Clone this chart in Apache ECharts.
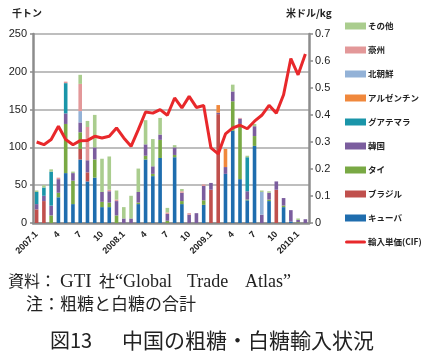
<!DOCTYPE html>
<html><head><meta charset="utf-8">
<script src="https://cdn.jsdelivr.net/npm/echarts@6/dist/echarts.min.js"></script>
<style>html,body{margin:0;padding:0;background:#fff}#c{width:427px;height:358px}</style>
</head><body><div id="c"></div>
<script>
const categories = ['2007.1','2007.2','2007.3','2007.4','2007.5','2007.6','2007.7','2007.8','2007.9','2007.10','2007.11','2007.12',
'2008.1','2008.2','2008.3','2008.4','2008.5','2008.6','2008.7','2008.8','2008.9','2008.10','2008.11','2008.12',
'2009.1','2009.2','2009.3','2009.4','2009.5','2009.6','2009.7','2009.8','2009.9','2009.10','2009.11','2009.12',
'2010.1','2010.2'];
// thousand tonnes
const cuba      = [0,0,0,34,66,25,84,55,60,21,21,0, 0,0,25,84,62,86,0,87,25,0,0,24, 0,0,65,122,58,30,102,0,29,0,21,2, 0,0];
const brazil    = [18,29,0,0,0,0,14,12,0,0,0,0, 0,0,0,0,0,0,0,0,0,0,0,0, 44,144,0,0,0,0,0,0,0,44,0,0, 0,0];
const thai      = [0,0,10,6,65,31,22,0,24,7,6,10, 0,0,2,5,3,24,3,3,4,0,0,6, 0,0,0,39,73,1,13,0,2,0,2,0, 1,0];
const korea     = [7,7,13,18,14,10,13,16,16,13,15,19, 6,6,14,15,10,7,9,10,11,11,13,19, 9,2,9,13,7,11,13,11,9,11,10,15, 3,5];
const guatemala = [16,11,45,0,40,0,0,0,0,0,0,0, 0,0,0,0,0,0,0,0,0,0,0,0, 0,0,0,0,0,45,0,0,0,0,0,0, 0,0];
const argentina = [0,0,0,0,0,0,0,0,0,0,0,0, 0,0,0,0,0,0,0,0,0,0,0,0, 0,10,24,0,0,0,0,0,0,0,0,0, 0,0];
const nkorea    = [0,0,0,0,0,0,15,0,0,0,0,0, 0,0,0,0,0,0,0,0,0,0,0,0, 0,0,0,0,0,0,0,30,0,0,0,0, 0,0];
const australia = [0,0,0,2,2,0,36,44,0,0,2,2, 0,0,0,0,0,0,2,0,2,2,0,2, 0,0,0,0,1,0,0,0,0,0,0,0, 0,0];
const others    = [2,3,3,0,0,2,12,8,43,44,44,12, 15,30,31,32,36,22,6,3,3,0,0,0, 0,0,0,9,0,2,3,2,2,0,0,0, 2,0];
// US$/kg
const price = [0.300,0.290,0.309,0.358,0.309,0.290,0.305,0.306,0.321,0.315,0.321,0.352,
0.315,0.284,0.346,0.411,0.407,0.420,0.399,0.463,0.426,0.469,0.428,0.435,
0.278,0.256,0.330,0.352,0.362,0.349,0.377,0.399,0.436,0.407,0.475,0.609,
0.549,0.626];
const leftTicks = {min:0, max:250, interval:50};
const rightTicks = {min:0, max:0.7, interval:0.1};

const barDefs = [
  ['キューバ', cuba, '#1f6dae'],
  ['ブラジル', brazil, '#c0504d'],
  ['タイ', thai, '#79a944'],
  ['韓国', korea, '#7b5d9e'],
  ['グアテマラ', guatemala, '#1a95a9'],
  ['アルゼンチン', argentina, '#f0883c'],
  ['北朝鮮', nkorea, '#93b2d7'],
  ['豪州', australia, '#e39899'],
  ['その他', others, '#aacd8e']
];
const series = barDefs.map(d => ({
  name: d[0], type: 'bar', stack: 'imp', data: d[1], barWidth: 3.6,
  itemStyle: {color: d[2]}, emphasis: {disabled: true}
}));
series.push({
  name: '輸入単価(CIF)', type: 'line', yAxisIndex: 1, data: price, symbol: 'none',
  lineStyle: {color: '#e8282b', width: 3}, itemStyle: {color: '#e8282b'}, z: 5
});

const legendOrder = ['その他','豪州','北朝鮮','アルゼンチン','グアテマラ','韓国','タイ','ブラジル','キューバ','輸入単価(CIF)'];
const cjk = '"Noto Sans CJK JP", sans-serif';
const serif = '"Liberation Serif", "Noto Sans CJK JP", serif';
const axisGray = '#8c8c8c';

const chart = echarts.init(document.getElementById('c'), null, {renderer: 'canvas'});
chart.setOption({
  animation: false,
  backgroundColor: '#fff',
  grid: {left: 33, right: 118, top: 34, bottom: 135},
  legend: {
    data: legendOrder.map(n => n === '輸入単価(CIF)'
      ? {name: n, icon: 'path://M1.5,0 L19.5,0 A1.5,1.5 0 0 1 19.5,3 L1.5,3 A1.5,1.5 0 0 1 1.5,0 Z'}
      : {name: n, icon: 'rect'}),
    orient: 'vertical', left: 345, top: 20, padding: 0, itemWidth: 21, itemHeight: 7, itemGap: 12,
    selectedMode: false, symbolKeepAspect: true,
    textStyle: {fontFamily: cjk, fontSize: 8.5, fontWeight: 'bold', color: '#222', lineHeight: 12, padding: [0,0,0,-3]}
  },
  xAxis: {
    type: 'category', data: categories, boundaryGap: true,
    axisLine: {lineStyle: {color: axisGray, width: 2.5}},
    axisTick: {show: false},
    axisLabel: {interval: 2, rotate: 45, margin: 10, fontSize: 9, fontWeight: 'bold', color: '#222',
      fontFamily: '"Liberation Sans", Arial, sans-serif',
      formatter: v => { const m = v.split('.')[1]; return m === '1' ? v : m; }}
  },
  yAxis: [{
    type: 'value', min: leftTicks.min, max: leftTicks.max, interval: leftTicks.interval,
    axisLine: {show: true, lineStyle: {color: axisGray, width: 2.5}},
    axisTick: {show: true, length: 3, lineStyle: {color: axisGray, width: 1.5}},
    splitLine: {lineStyle: {color: '#a8a8a8', width: 1.5}},
    axisLabel: {fontSize: 11, color: '#222', margin: 6, fontFamily: '"Liberation Sans", Arial, sans-serif'}
  }, {
    type: 'value', min: rightTicks.min, max: rightTicks.max, interval: rightTicks.interval, position: 'right',
    axisLine: {show: true, lineStyle: {color: axisGray, width: 2.5}},
    axisTick: {show: true, length: 4, lineStyle: {color: axisGray, width: 1.5}},
    splitLine: {show: false},
    axisLabel: {fontSize: 11, color: '#222', margin: 6, fontFamily: '"Liberation Sans", Arial, sans-serif'}
  }],
  series: series,
  graphic: [
    {type: 'text', left: 12, top: 8, style: {text: '千トン', font: 'bold 10px ' + cjk, fill: '#222'}},
    {type: 'text', left: 286, top: 8, style: {text: '米ドル/kg', font: 'bold 10px ' + cjk, fill: '#222'}},
    {type: 'text', x: 8, y: 281, style: {text: '資料：', font: '16px ' + cjk, fill: '#222', verticalAlign: 'middle'}},
    {type: 'text', x: 60, y: 282, style: {text: 'GTI', font: '19px ' + serif, fill: '#222', verticalAlign: 'middle'}},
    {type: 'text', x: 99, y: 281, style: {text: '社', font: '16px ' + cjk, fill: '#222', verticalAlign: 'middle'}},
    {type: 'text', x: 115, y: 282, style: {text: '“Global', font: '18px ' + serif, fill: '#222', verticalAlign: 'middle'}},
    {type: 'text', x: 187, y: 282, style: {text: 'Trade', font: '18px ' + serif, fill: '#222', verticalAlign: 'middle'}},
    {type: 'text', x: 245, y: 282, style: {text: 'Atlas”', font: '18px ' + serif, fill: '#222', verticalAlign: 'middle'}},
    {type: 'text', x: 26, y: 304, style: {text: '注：粗糖と白糖の合計', font: '17px ' + cjk, fill: '#222', verticalAlign: 'middle'}},
    {type: 'text', x: 50, y: 340, style: {text: '図13', font: '20px ' + cjk, fill: '#222', verticalAlign: 'middle'}},
    {type: 'text', x: 122, y: 340, style: {text: '中国の粗糖・白糖輸入状況', font: '21px ' + cjk, fill: '#222', verticalAlign: 'middle'}}
  ]
});
</script></body></html>
